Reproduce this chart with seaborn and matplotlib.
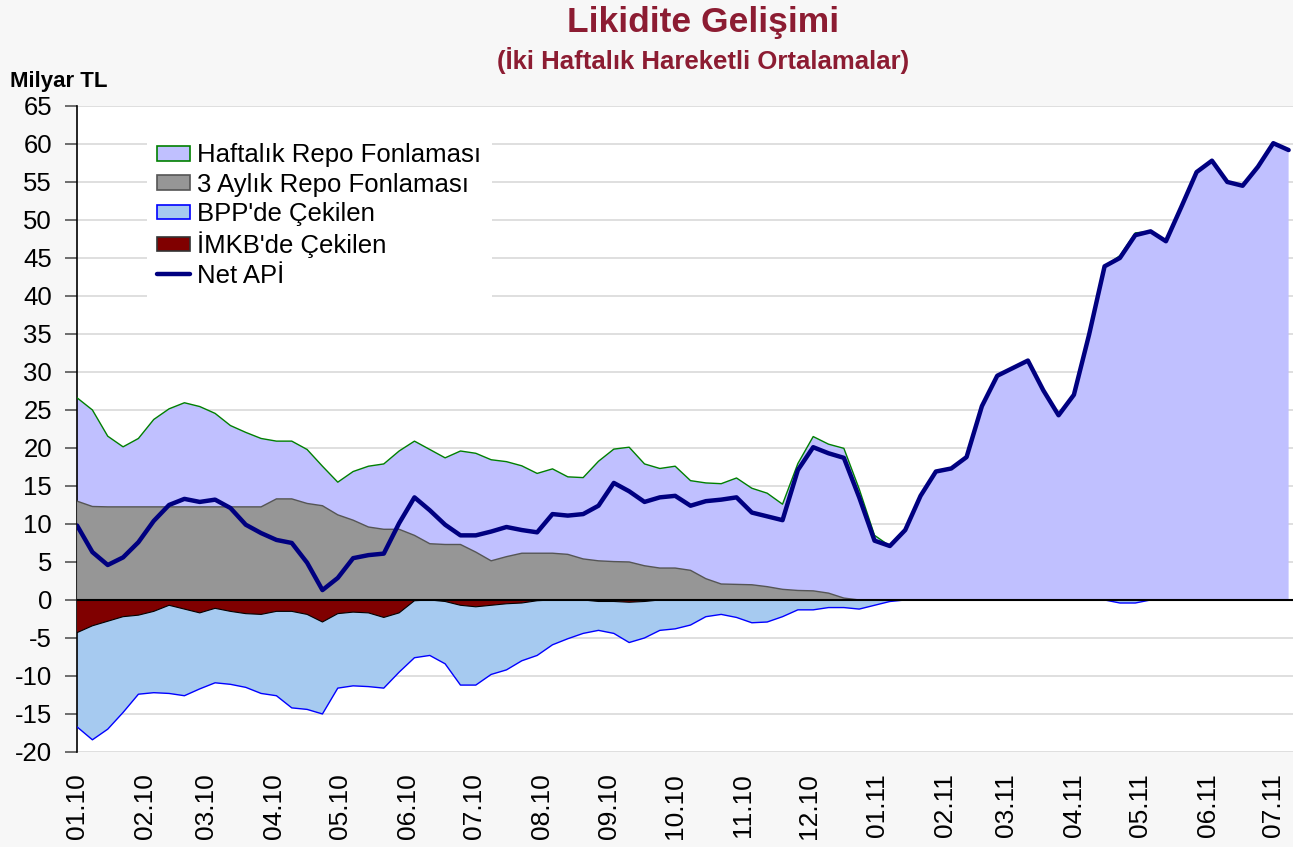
import matplotlib
matplotlib.use("Agg")
import matplotlib.pyplot as plt
import matplotlib.dates as mdates
from matplotlib.patches import Patch
from matplotlib.lines import Line2D
import seaborn as sns
import pandas as pd
import numpy as np

# haftalik veriler (2010-01-01'den itibaren, milyar TL)
dates = pd.date_range("2010-01-01", periods=80, freq="7D")

haftalik_repo = [13.6, 12.7, 9.3, 7.9, 9.0, 11.5, 12.9, 13.7, 13.2, 12.3,
                 10.7, 9.8, 9.0, 7.6, 7.6, 7.1, 5.2, 4.3, 6.4, 8.0,
                 8.6, 10.3, 12.4, 12.4, 11.4, 12.3, 13.0, 13.3, 12.5, 11.5,
                 10.5, 11.1, 10.2, 10.7, 13.1, 14.8, 15.1, 13.4, 13.1, 13.4,
                 11.8, 12.6, 13.2, 14.0, 12.7, 12.3, 11.2, 16.7, 20.3, 19.6,
                 19.7, 14.6, 8.5, 7.1, 9.4, 13.7, 16.9, 17.3, 18.8, 25.5,
                 29.5, 30.5, 31.5, 27.6, 24.3, 27.0, 35.0, 43.9, 45.3, 48.3,
                 48.5, 47.2, 51.7, 56.3, 57.8, 55.0, 54.5, 57.0, 60.1, 59.2]

uc_aylik_repo = [13.0, 12.3, 12.25, 12.25, 12.25, 12.25, 12.25, 12.25, 12.25, 12.25,
                 12.25, 12.25, 12.25, 13.3, 13.3, 12.7, 12.4, 11.2, 10.5, 9.6,
                 9.3, 9.3, 8.5, 7.4, 7.3, 7.3, 6.3, 5.15, 5.7, 6.15,
                 6.15, 6.15, 6.0, 5.4, 5.15, 5.05, 5.0, 4.5, 4.2, 4.2,
                 3.9, 2.8, 2.1, 2.05, 2.0, 1.75, 1.4, 1.25, 1.2, 0.9,
                 0.25, 0, 0, 0, 0, 0, 0, 0, 0, 0,
                 0, 0, 0, 0, 0, 0, 0, 0, 0, 0,
                 0, 0, 0, 0, 0, 0, 0, 0, 0, 0]

bpp_cekilen = [12.4, 15.0, 14.2, 12.6, 10.4, 10.7, 11.6, 11.4, 10.0, 9.8,
               9.6, 9.7, 10.4, 11.1, 12.7, 12.5, 12.1, 9.8, 9.7, 9.7,
               9.3, 7.8, 7.5, 7.3, 8.2, 10.5, 10.3, 9.1, 8.7, 7.6,
               7.2, 5.9, 5.1, 4.4, 3.8, 4.2, 5.3, 4.8, 4.0, 3.8,
               3.3, 2.2, 1.9, 2.3, 3.0, 2.9, 2.2, 1.3, 1.3, 1.0,
               1.0, 1.2, 0.7, 0.2, 0, 0, 0, 0, 0, 0,
               0, 0, 0, 0, 0, 0, 0, 0, 0.4, 0.4,
               0, 0, 0, 0, 0, 0, 0, 0, 0, 0]

imkb_cekilen = [4.3, 3.4, 2.8, 2.2, 2.0, 1.5, 0.7, 1.2, 1.7, 1.1,
                1.5, 1.8, 1.9, 1.5, 1.5, 1.9, 2.9, 1.8, 1.6, 1.7,
                2.3, 1.7, 0.1, 0.0, 0.2, 0.7, 0.9, 0.7, 0.5, 0.4,
                0.1, 0, 0, 0, 0.2, 0.2, 0.3, 0.2, 0, 0,
                0, 0, 0, 0, 0, 0, 0, 0, 0, 0,
                0, 0, 0, 0, 0, 0, 0, 0, 0, 0,
                0, 0, 0, 0, 0, 0, 0, 0, 0, 0,
                0, 0, 0, 0, 0, 0, 0, 0, 0, 0]

net_api = [9.8, 6.3, 4.6, 5.6, 7.6, 10.4, 12.5, 13.3, 12.9, 13.2,
           12.1, 9.9, 8.8, 7.9, 7.5, 4.9, 1.3, 2.9, 5.5, 5.9,
           6.1, 10.1, 13.5, 11.8, 9.9, 8.5, 8.5, 9.0, 9.6, 9.2,
           8.9, 11.3, 11.1, 11.3, 12.4, 15.4, 14.3, 12.9, 13.5, 13.7,
           12.4, 13.0, 13.2, 13.5, 11.5, 11.0, 10.5, 17.1, 20.1, 19.3,
           18.7, 13.5, 7.8, 7.1, 9.2, 13.7, 16.9, 17.3, 18.8, 25.5,
           29.5, 30.5, 31.5, 27.6, 24.3, 27.0, 35.0, 43.9, 45.0, 48.0,
           48.5, 47.2, 51.7, 56.3, 57.8, 55.0, 54.5, 57.0, 60.1, 59.2]

df = pd.DataFrame({
    "tarih": dates,
    "haftalik": haftalik_repo,
    "uc_aylik": uc_aylik_repo,
    "bpp": bpp_cekilen,
    "imkb": imkb_cekilen,
    "net": net_api,
})

sns.set_style("white")
plt.rcParams["font.family"] = ["Liberation Sans", "DejaVu Sans"]
plt.rcParams["axes.unicode_minus"] = False
plt.rcParams["text.color"] = "black"

fig = plt.figure(figsize=(12.93, 8.47), dpi=100, facecolor="#f7f7f7")
ax = fig.add_axes([0.0596, 0.1122, 0.9404, 0.7627])
ax.set_facecolor("white")

x = df["tarih"]
gray_top = df["uc_aylik"]
lav_top = df["uc_aylik"] + df["haftalik"]
red_bot = -df["imkb"]
blue_bot = -(df["imkb"] + df["bpp"])

ax.fill_between(x, gray_top, lav_top, facecolor="#c0c0ff", edgecolor="none", zorder=2)
ax.plot(x, lav_top, color="#008000", lw=1.0, zorder=3)
ax.fill_between(x, 0, gray_top, facecolor="#969696", edgecolor="none", zorder=3)
ax.plot(x, gray_top, color="#555555", lw=1.0, zorder=3)
ax.fill_between(x, red_bot, blue_bot, facecolor="#a6caf0", edgecolor="none", zorder=2)
ax.plot(x, blue_bot, color="#0000ff", lw=1.0, zorder=3)
ax.fill_between(x, 0, red_bot, facecolor="#800000", edgecolor="none", zorder=3)
ax.plot(x, red_bot, color="black", lw=0.8, zorder=3)
ax.axhline(0, color="black", lw=1.5, zorder=4)

sns.lineplot(data=df, x="tarih", y="net", color="#000080", lw=3.2, ax=ax, zorder=5,
             solid_joinstyle="round", solid_capstyle="round")

ax.set_ylim(-20, 65)
ax.set_yticks(np.arange(-20, 66, 5))
ax.set_xlim(pd.Timestamp("2010-01-01"), pd.Timestamp("2011-07-10"))
ax.xaxis.set_major_locator(mdates.MonthLocator())
ax.xaxis.set_major_formatter(mdates.DateFormatter("%m.%y"))
ax.tick_params(axis="x", labelrotation=90, labelsize=19, length=0, pad=15,
               labelcolor="black")
ax.tick_params(axis="y", labelsize=18.5, length=9, width=1.2, color="#555555",
               direction="out", left=True, pad=9, labelcolor="black")
ax.grid(axis="y", color="#d9d9d9", lw=1.2, zorder=0)
ax.set_axisbelow(True)
ax.set_xlabel("")
ax.set_ylabel("")
for s in ["top", "right", "bottom"]:
    ax.spines[s].set_visible(False)
ax.spines["left"].set_color("black")
ax.spines["left"].set_linewidth(1.2)

handles = [
    Patch(facecolor="#c0c0ff", edgecolor="#008000", lw=1.2, label="Haftalık Repo Fonlaması"),
    Patch(facecolor="#969696", edgecolor="#555555", lw=1.2, label="3 Aylık Repo Fonlaması"),
    Patch(facecolor="#a6caf0", edgecolor="#0000ff", lw=1.2, label="BPP'de Çekilen"),
    Patch(facecolor="#800000", edgecolor="#333333", lw=1.2, label="İMKB'de Çekilen"),
    Line2D([0], [0], color="#000080", lw=3.2, label="Net APİ"),
]
leg = ax.legend(handles=handles, loc="upper left", bbox_to_anchor=(0.0576, 0.958),
                fontsize=18.5, frameon=True, facecolor="white", edgecolor="none",
                framealpha=1, fancybox=False, borderaxespad=0, borderpad=0.4,
                labelspacing=0.21, handlelength=1.28, handleheight=0.5,
                handletextpad=0.27)
for t in leg.get_texts():
    t.set_color("black")
leg.set_zorder(6)

fig.text(0.544, 0.974, "Likidite Gelişimi", ha="center", va="center",
         fontsize=25.5, fontweight="bold", color="#8c1c32")
fig.text(0.544, 0.929, "(İki Haftalık Hareketli Ortalamalar)", ha="center", va="center",
         fontsize=18.5, fontweight="bold", color="#8c1c32")
fig.text(0.008, 0.904, "Milyar TL", ha="left", va="center",
         fontsize=16, fontweight="bold", color="black")

fig.savefig("out.png", dpi=100, facecolor=fig.get_facecolor())
plt.close(fig)
